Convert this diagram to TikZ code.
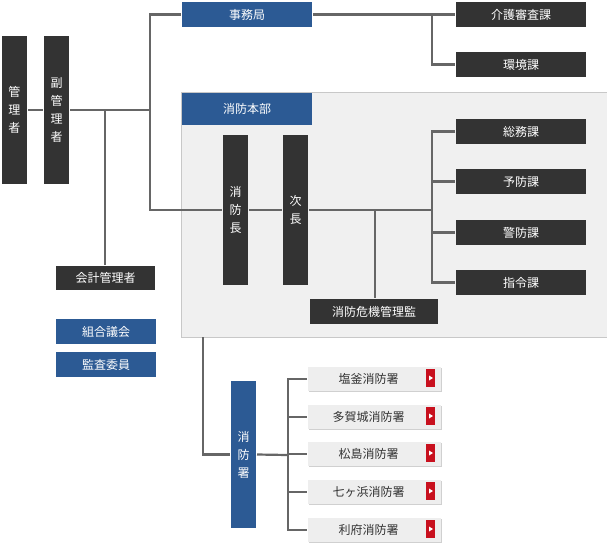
\documentclass[tikz,border=0pt]{standalone}
\usepackage{fontspec}
\setmainfont{Noto Sans CJK JP}
\definecolor{boxblue}{RGB}{44,90,148}
\definecolor{boxdark}{RGB}{51,51,51}
\definecolor{linegray}{RGB}{102,102,102}
\definecolor{panelgray}{RGB}{240,240,240}
\definecolor{panelline}{RGB}{200,200,200}
\definecolor{stationgray}{RGB}{238,238,238}
\definecolor{shadowgray}{RGB}{208,208,208}
\definecolor{tabred}{RGB}{200,16,30}
\tikzset{every picture/.style={line width=2pt}}
\tikzset{
  base/.style={inner sep=0pt, font=\fontsize{12}{18}\selectfont, text=white, align=center, anchor=north west},
  blue box/.style={base, fill=boxblue},
  dark box/.style={base, fill=boxdark},
  station/.style={base, fill=stationgray, text=boxdark, minimum width=133, minimum height=24},
  link/.style={draw=linegray, line width=2.2}
}
\begin{document}
\begin{tikzpicture}[x=1pt,y=-1pt]
\useasboundingbox (0,0) rectangle (607,550);

%Shape: panel
\draw [draw=panelline, fill=panelgray, line width=1] (181,92) rectangle (607,337);

% top rows
\node [dark box, minimum width=25, minimum height=148] (kanri) at (1,35) {管\\理\\者};
\node [dark box, minimum width=25, minimum height=148] (fuku) at (43,35) {副\\管\\理\\者};
\node [dark box, minimum width=99, minimum height=24] (kaikei) at (55,265) {会計管理者};
\node [blue box, minimum width=100, minimum height=25] (gikai) at (55,318) {組合議会};
\node [blue box, minimum width=100, minimum height=25] (kansa) at (55,351) {監査委員};

\node [blue box, minimum width=130, minimum height=25] (jimu) at (181,1) {事務局};
\node [dark box, minimum width=130, minimum height=25] (kaigo) at (455,1) {介護審査課};
\node [dark box, minimum width=130, minimum height=25] (kankyo) at (455,51) {環境課};

\node [blue box, minimum width=130, minimum height=32] (honbu) at (181,92) {消防本部};
\node [dark box, minimum width=25, minimum height=150] (chou) at (222,134) {消\\防\\長};
\node [dark box, minimum width=25, minimum height=150] (jicho) at (282,134) {次\\長};
\node [dark box, minimum width=128, minimum height=25] (kiki) at (309,298) {消防危機管理監};

\node [dark box, minimum width=130, minimum height=25] (soumu) at (455,118) {総務課};
\node [dark box, minimum width=130, minimum height=25] (yobou) at (455,168) {予防課};
\node [dark box, minimum width=130, minimum height=25] (keibou) at (455,219) {警防課};
\node [dark box, minimum width=130, minimum height=25] (shirei) at (455,269) {指令課};

\node [blue box, minimum width=25, minimum height=147] (sho) at (230,380) {消\\防\\署};

% stations
\foreach \name/\txt/\y in {s1/塩釜消防署/366, s2/多賀城消防署/404, s3/松島消防署/441, s4/七ヶ浜消防署/479, s5/利府消防署/517}{
  \fill [shadowgray] (309,\y+2) rectangle (442,\y+26);
  \node [station] (\name) at (307,\y) {\hspace*{-12pt}\txt};
  \fill [tabred] (426,\y+3) rectangle (435,\y+21);
  \fill [white] (429,\y+9.5) -- (433,\y+12) -- (429,\y+14.5) -- cycle;
}

% connectors
\coordinate (j1) at (150,110);
\coordinate (j2) at (432,14);
\coordinate (j3) at (432,210);
\coordinate (j4) at (288,455);
\draw [link] (kanri.east |- j1) -- (fuku.west |- j1);
\draw [link] (fuku.east |- j1) -- (j1);
\draw [link] (105,110) -- (105,265);
\draw [link] (jimu.west) -| (150,210) -- (chou.west |- j3);
\draw [link] (jimu.east) -- (kaigo.west);
\draw [link] (j2) |- (kankyo.west);
\draw [link] (chou.east |- j3) -- (jicho.west |- j3);
\draw [link] (jicho.east |- j3) -- (j3);
\draw [link] (375,210) -- (375,298);
\draw [link] (soumu.west) -| (j3) |- (shirei.west);
\draw [link] (j3 |- yobou.west) -- (yobou.west);
\draw [link] (j3 |- keibou.west) -- (keibou.west);
\draw [link] (203,337) |- (sho.west);
\draw [link] (sho.east) -- (j4);
\draw [link] (s1.west) -| (j4) |- (s5.west);
\draw [link] (j4 |- s2.west) -- (s2.west);
\draw [link] (j4 |- s3.west) -- (s3.west);
\draw [link] (j4 |- s4.west) -- (s4.west);
\end{tikzpicture}
\end{document}
